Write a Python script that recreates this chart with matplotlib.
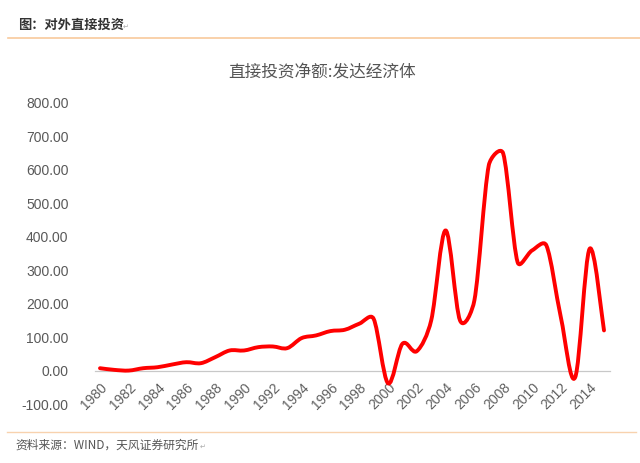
import numpy as np
import matplotlib
matplotlib.use("Agg")
import matplotlib.pyplot as plt
from matplotlib.path import Path
from matplotlib.patches import PathPatch
from matplotlib.lines import Line2D

plt.rcParams['font.family'] = ['Noto Sans CJK SC', 'DejaVu Sans']

years = list(range(1980, 2016))
values = [7, 2, 0, 7, 10, 18, 25, 22, 40, 60,
          60, 70, 72, 67, 97, 105, 118, 122, 140, 155,
          -38, 80, 58, 150, 419, 150, 210, 614, 649, 324,
          359, 374, 160, -20, 364, 120]
tick_years = list(range(1980, 2015, 2))
ytick_vals = [-100, 0, 100, 200, 300, 400, 500, 600, 700, 800]

title_top = "图：对外直接投资"
chart_title = "直接投资净额:发达经济体"
source = "资料来源：WIND，天风证券研究所"

fig = plt.figure(figsize=(6.4, 4.63), dpi=100)
W, H = 640, 463

# header / footer
fig.text(18 / W, 1 - 25 / H, title_top, fontsize=9.5, fontweight='bold',
         color='#333333', va='center', ha='left')
fig.text(123 / W, 1 - 27 / H, "↵", fontsize=5, color='#aaaaaa', va='center', ha='left',
         family=['DejaVu Sans'])
fig.add_artist(Line2D([8 / W, 1], [1 - 38 / H, 1 - 38 / H], color='#F8C99C', lw=1.2))
fig.add_artist(Line2D([7 / W, 636 / W], [1 - 432 / H, 1 - 432 / H], color='#F8D2AE', lw=1.0))
fig.text(15 / W, 1 - 445 / H, source, fontsize=8.5, color='#555555', va='center', ha='left')
fig.text(200 / W, 1 - 447 / H, "↵", fontsize=5, color='#aaaaaa', va='center', ha='left',
         family=['DejaVu Sans'])

fig.text(322 / W, 1 - 72 / H, chart_title, fontsize=12, color='#555555',
         va='center', ha='center')

# axes
x0, x1 = 88, 616
ax = fig.add_axes([x0 / W, 1 - 404 / H, (x1 - x0) / W, (404 - 103) / H])
px_per_year = (604 - 100) / 35
px_per_unit = (404 - 103) / 900
ax.set_xlim(1980 - (100 - x0) / px_per_year, 2015 + (x1 - 604) / px_per_year)
ax.set_ylim(-100, 800)

for s in ax.spines.values():
    s.set_visible(False)
ax.spines['bottom'].set_position(('data', 0))

ax.axhline(0, xmin=(95 - x0) / (x1 - x0), xmax=(610 - x0) / (x1 - x0),
           color='#c8c8c8', lw=0.9, zorder=1)

ax.set_yticks(ytick_vals)
ax.set_yticklabels([f"{v:.2f}" for v in ytick_vals], family=['Liberation Sans'],
                   fontsize=10, color='#595959')
ax.set_xticks(tick_years)
ax.set_xticklabels([str(y) for y in tick_years], rotation=45, ha='right',
                   rotation_mode='anchor', family=['Liberation Sans'],
                   fontsize=10, color='#606060')
ax.tick_params(axis='both', length=0)
ax.tick_params(axis='y', pad=14)
ax.tick_params(axis='x', pad=7)

# smoothed line (Bezier through data points, control handles limited per segment)
xs = np.array(years, dtype=float)
ys = np.array(values, dtype=float)
P = np.column_stack([xs * px_per_year, ys * px_per_unit])  # pixel-like space
n = len(P)


def handle(i, j, tang):
    seg = np.linalg.norm(P[j] - P[i])
    v = tang / 6.0
    L = np.linalg.norm(v)
    lim = 0.45 * seg
    if L > lim and L > 0:
        v = v * lim / L
    return v


verts = [(xs[0], ys[0])]
codes = [Path.MOVETO]
for i in range(n - 1):
    t1 = P[min(i + 1, n - 1)] - P[max(i - 1, 0)]
    t2 = P[min(i + 2, n - 1)] - P[i]
    c1 = P[i] + handle(i, i + 1, t1)
    c2 = P[i + 1] - handle(i, i + 1, t2)
    for c in (c1, c2, P[i + 1]):
        verts.append((c[0] / px_per_year, c[1] / px_per_unit))
    codes += [Path.CURVE4, Path.CURVE4, Path.CURVE4]
patch = PathPatch(Path(verts, codes), facecolor='none', edgecolor='#FF0000',
                  lw=2.8, capstyle='round', joinstyle='round', zorder=3)
ax.add_patch(patch)

fig.savefig("out.png", dpi=100, facecolor='white')
